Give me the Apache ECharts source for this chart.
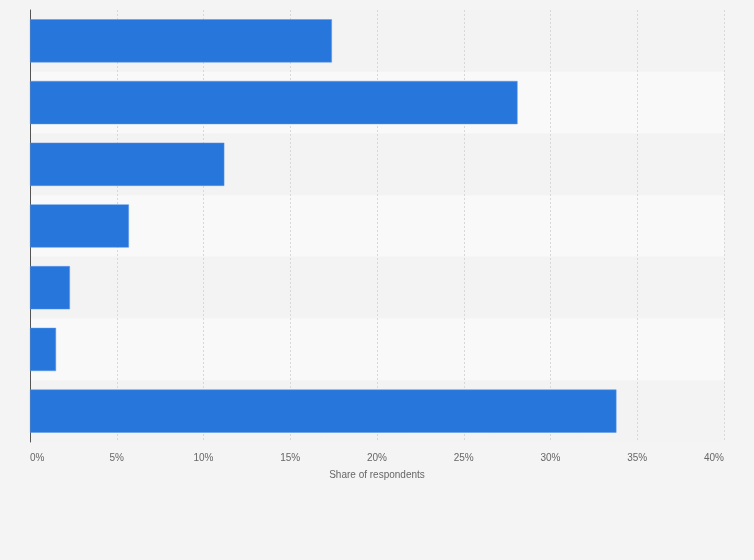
<!DOCTYPE html>
<html>
<head>
<meta charset="utf-8">
<script src="https://cdn.jsdelivr.net/npm/echarts@6/dist/echarts.min.js"></script>
<style>html,body{margin:0;padding:0;background:#f4f4f4;}#c{width:754px;height:560px;}</style>
</head>
<body>
<div id="c"></div>
<script>
var categories = ['A', 'B', 'C', 'D', 'E', 'F', 'G'];
var values = [17.4, 28.1, 11.2, 5.7, 2.3, 1.5, 33.8];
var xTicks = [0, 5, 10, 15, 20, 25, 30, 35, 40];

var chart = echarts.init(document.getElementById('c'));
chart.setOption({
  backgroundColor: '#f4f4f4',
  animation: false,
  grid: { left: 30, right: 30, top: 10, bottom: 118, containLabel: false },
  xAxis: {
    type: 'value',
    min: xTicks[0],
    max: xTicks[xTicks.length - 1],
    interval: 5,
    name: 'Share of respondents',
    nameLocation: 'middle',
    nameGap: 28,
    nameTextStyle: { color: '#666', fontSize: 10, fontFamily: 'Liberation Sans, Arial, sans-serif' },
    axisLine: { show: false },
    axisTick: { show: false },
    axisLabel: {
      color: '#666', fontSize: 10, margin: 11,
      fontFamily: 'Liberation Sans, Arial, sans-serif',
      alignMinLabel: 'left',
      alignMaxLabel: 'right',
      formatter: function (v) { return v + '%'; }
    },
    splitLine: { show: true, lineStyle: { color: '#d8d8d8', type: [2, 2], width: 1 } }
  },
  yAxis: {
    type: 'category',
    data: categories,
    inverse: true,
    axisLine: { show: true, lineStyle: { color: '#555', width: 1 } },
    axisTick: { show: false },
    axisLabel: { show: false },
    splitArea: { show: true, areaStyle: { color: ['#f3f3f3', '#f9f9f9'] } }
  },
  series: [{
    type: 'bar',
    data: values,
    barWidth: '70%',
    itemStyle: { color: '#2776dc', borderColor: '#5a97e6', borderWidth: 0.5 },
    z: 3
  }]
});
</script>
</body>
</html>
